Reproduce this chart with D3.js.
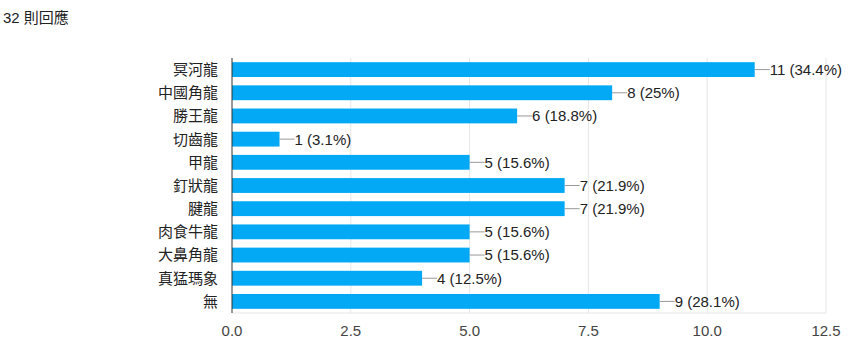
<!DOCTYPE html>
<html>
<head>
<meta charset="utf-8">
<script src="https://cdn.jsdelivr.net/npm/d3@7"></script>
<style>
  body { margin: 0; background: #fff; }
  text { font-family: "Liberation Sans", Arial, "Noto Sans CJK TC", sans-serif; }
</style>
</head>
<body>
<svg id="chart" width="852" height="345"></svg>
<script>
var title = "32 則回應";
var categories = ["冥河龍", "中國角龍", "勝王龍", "切齒龍", "甲龍", "釘狀龍", "腱龍", "肉食牛龍", "大鼻角龍", "真猛瑪象", "無"];
var counts = [11, 8, 6, 1, 5, 7, 7, 5, 5, 4, 9];
var percents = ["34.4%", "25%", "18.8%", "3.1%", "15.6%", "21.9%", "21.9%", "15.6%", "15.6%", "12.5%", "28.1%"];
var xTicks = [0, 2.5, 5, 7.5, 10, 12.5];

var svg = d3.select("#chart");
var plotLeft = 232, plotRight = 826, plotTop = 58, plotBottom = 313;

svg.append("text")
  .attr("x", 3).attr("y", 23)
  .attr("font-size", 15)
  .attr("fill", "#212121")
  .text(title);

var xScale = d3.scaleLinear().domain([0, 12.5]).range([plotLeft, plotRight]);
var yScale = d3.scaleBand().domain(categories).range([plotTop, plotBottom]).paddingInner(0.36).paddingOuter(0.18);

// grid
svg.append("g").selectAll("line")
  .data(xTicks.slice(1))
  .enter().append("line")
  .attr("x1", d => xScale(d)).attr("x2", d => xScale(d))
  .attr("y1", plotTop).attr("y2", plotBottom)
  .attr("stroke", "#e6e6e6");

svg.append("line")
  .attr("x1", plotLeft).attr("x2", plotRight)
  .attr("y1", plotBottom).attr("y2", plotBottom)
  .attr("stroke", "#e6e6e6");

// tick labels
svg.append("g").selectAll("text")
  .data(xTicks)
  .enter().append("text")
  .attr("x", d => xScale(d))
  .attr("y", 336)
  .attr("text-anchor", "middle")
  .attr("font-size", 15)
  .attr("fill", "#444")
  .text(d => d.toFixed(1));

var rows = categories.map((c, i) => ({cat: c, n: counts[i], p: percents[i]}));

svg.append("g").selectAll("rect")
  .data(rows)
  .enter().append("rect")
  .attr("x", plotLeft)
  .attr("y", d => yScale(d.cat))
  .attr("width", d => xScale(d.n) - plotLeft)
  .attr("height", yScale.bandwidth())
  .attr("fill", "#03a9f4");

// category labels
svg.append("g").selectAll("text")
  .data(rows)
  .enter().append("text")
  .attr("x", 218)
  .attr("y", d => yScale(d.cat) + yScale.bandwidth() / 2)
  .attr("dy", "0.36em")
  .attr("text-anchor", "end")
  .attr("font-size", 15)
  .attr("fill", "#222")
  .text(d => d.cat);

// value labels with leader
var lab = svg.append("g").selectAll("g")
  .data(rows)
  .enter().append("g")
  .attr("transform", d => "translate(" + xScale(d.n) + "," + (yScale(d.cat) + yScale.bandwidth() / 2) + ")");

lab.append("line")
  .attr("x1", 0).attr("x2", 15)
  .attr("y1", 0).attr("y2", 0)
  .attr("stroke", "#999");

lab.append("text")
  .attr("x", 15)
  .attr("dy", "0.36em")
  .attr("font-size", 15)
  .attr("fill", "#222")
  .text(d => d.n + " (" + d.p + ")");

// baseline
svg.append("line")
  .attr("x1", plotLeft).attr("x2", plotLeft)
  .attr("y1", plotTop).attr("y2", plotBottom)
  .attr("stroke", "#333");
</script>
</body>
</html>
